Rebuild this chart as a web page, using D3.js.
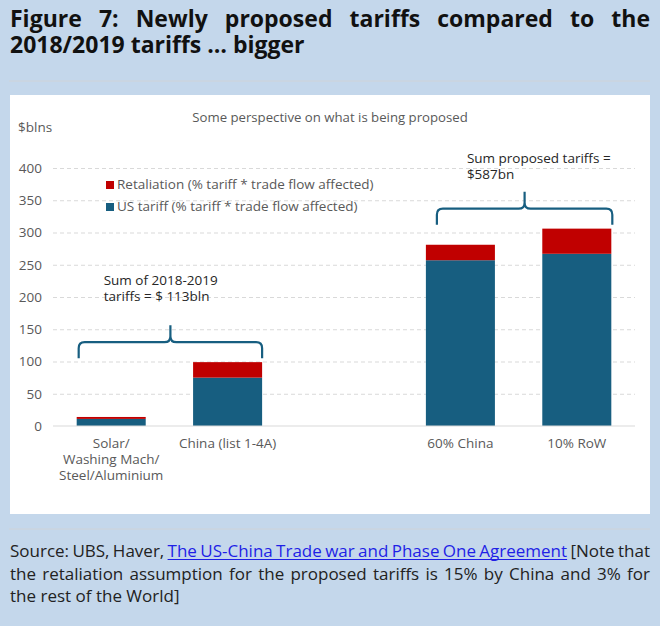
<!DOCTYPE html>
<html>
<head>
<meta charset="utf-8">
<script src="https://cdn.jsdelivr.net/npm/d3@7"></script>
<style>
  body { margin: 0; background: #c4d7eb; }
  svg { display: block; }
</style>
</head>
<body>
<svg id="fig" width="660" height="626"></svg>
<script>
// chart values
const categories = ["Solar/Washing Mach/Steel/Aluminium", "China (list 1-4A)", "", "60% China", "10% RoW"];
const xLabels = [["Solar/", "Washing Mach/", "Steel/Aluminium"], ["China (list 1-4A)"], [], ["60% China"], ["10% RoW"]];
const usTariff = [11, 75, null, 257, 267];
const retaliation = [3, 24, null, 24, 39];
const yTicks = [0, 50, 100, 150, 200, 250, 300, 350, 400];
const seriesNames = ["Retaliation (% tariff * trade flow affected)", "US tariff (% tariff * trade flow affected)"];
const braceGroups = [[0, 1], [3, 4]];
const braceLabels = [["Sum of 2018-2019", "tariffs = $ 113bln"], ["Sum proposed tariffs =", "$587bn"]];

const titleLines = ["Figure 7: Newly proposed tariffs compared to the", "2018/2019 tariffs \u2026 bigger"];
const sourceLines = [
  [["Source: UBS, Haver,", false], ["The US-China Trade war and Phase One Agreement", true], ["[Note that", false]],
  [["the retaliation assumption for the proposed tariffs is 15% by China and 3% for", false]],
  [["the rest of the World]", false]]
];

const svg = d3.select("#fig");
const FONT = "'Open Sans', 'Noto Sans', sans-serif";

// lays words out on one line; justified lines stretch the gaps to fill x0..x1
function wordLine(g, segments, x0, x1, y, justify, attrs) {
  const words = [];
  segments.forEach(([txt, link]) => txt.split(" ").forEach(w => words.push({ w, link })));
  const nodes = words.map(d => {
    const t = g.append("text").attr("y", y).text(d.w);
    Object.entries(attrs).forEach(([k, v]) => t.attr(k, v));
    if (d.link) t.attr("fill", "#1f1fe6");
    return t;
  });
  const widths = nodes.map(n => n.node().getComputedTextLength());
  const total = d3.sum(widths);
  const space = justify ? (x1 - x0 - total) / (words.length - 1) : attrs["font-size"] * 0.26;
  let x = x0;
  let linkStart = null, linkEnd = null;
  nodes.forEach((n, i) => {
    n.attr("x", x);
    if (words[i].link) {
      if (linkStart === null) linkStart = x;
      linkEnd = x + widths[i];
    }
    x += widths[i] + space;
  });
  if (linkStart !== null) {
    g.append("line")
      .attr("x1", linkStart).attr("x2", linkEnd)
      .attr("y1", y + 2.5).attr("y2", y + 2.5)
      .attr("stroke", "#1f1fe6").attr("stroke-width", 1);
  }
}

// title
const title = svg.append("g");
titleLines.forEach((line, i) => {
  wordLine(title, [[line, false]], 10, 650, 27 + i * 26, i === 0,
    { "font-family": FONT, "font-size": 23, "font-weight": "bold", fill: "#111111" });
});

// separators and panel
svg.append("line").attr("x1", 9).attr("x2", 650).attr("y1", 81).attr("y2", 81)
  .attr("stroke", "#cfd3d8").attr("stroke-width", 1);
svg.append("line").attr("x1", 9).attr("x2", 650).attr("y1", 529).attr("y2", 529)
  .attr("stroke", "#cfd3d8").attr("stroke-width", 1);
svg.append("rect").attr("x", 10).attr("y", 95).attr("width", 640).attr("height", 419)
  .attr("fill", "#ffffff");

// source
const source = svg.append("g");
sourceLines.forEach((segs, i) => {
  wordLine(source, segs, 10, 650, 557 + i * 22.5, i < 2,
    { "font-family": FONT, "font-size": 17, fill: "#222222" });
});

// chart
const x = d3.scaleBand().domain(categories).range([53, 635]).paddingInner(0.407).paddingOuter(0.2035);
const y = d3.scaleLinear().domain([0, 400]).range([426, 168]);
const blue = "#175e80", red = "#c00000", grey = "#595959";

const chart = svg.append("g").attr("font-family", FONT);

chart.append("text").attr("x", 330).attr("y", 122).attr("text-anchor", "middle")
  .attr("font-size", 13.2).attr("fill", grey).text("Some perspective on what is being proposed");
chart.append("text").attr("x", 18).attr("y", 132)
  .attr("font-size", 13.5).attr("fill", grey).text("$blns");

// gridlines
const grid = chart.append("g").attr("transform", "translate(53,0)")
  .call(d3.axisLeft(y).tickValues(yTicks.filter(v => v > 0)).tickSize(-582).tickFormat(""));
grid.select(".domain").remove();
grid.selectAll("line").attr("stroke", "#d9d9d9").attr("stroke-dasharray", "4,3");

// y tick labels
const yAxis = chart.append("g").attr("transform", "translate(42,0)")
  .call(d3.axisLeft(y).tickValues(yTicks).tickSize(0).tickPadding(0));
yAxis.select(".domain").remove();
yAxis.selectAll("text").attr("font-family", FONT).attr("font-size", 13.5).attr("fill", grey);

// bars
const rows = categories.map((c, i) => ({ c, us: usTariff[i], ret: retaliation[i] })).filter(d => d.us !== null);
chart.selectAll(".us").data(rows).join("rect")
  .attr("x", d => x(d.c)).attr("width", x.bandwidth())
  .attr("y", d => y(d.us)).attr("height", d => y(0) - y(d.us))
  .attr("fill", blue);
chart.selectAll(".ret").data(rows).join("rect")
  .attr("x", d => x(d.c)).attr("width", x.bandwidth())
  .attr("y", d => y(d.us + d.ret)).attr("height", d => y(d.us) - y(d.us + d.ret))
  .attr("fill", red);

// x axis
chart.append("line").attr("x1", 53).attr("x2", 635).attr("y1", y(0)).attr("y2", y(0))
  .attr("stroke", "#d9d9d9").attr("stroke-width", 1);
const xl = chart.append("g");
categories.forEach((c, i) => {
  const t = xl.append("text").attr("text-anchor", "middle").attr("font-size", 13.5).attr("fill", grey);
  xLabels[i].forEach((line, j) => {
    t.append("tspan").attr("x", x(c) + x.bandwidth() / 2).attr("y", 448 + j * 16).text(line);
  });
});

// legend
const legend = chart.append("g");
[red, blue].forEach((col, i) => {
  legend.append("rect").attr("x", 106).attr("y", 181 + i * 22).attr("width", 8).attr("height", 8).attr("fill", col);
  legend.append("text").attr("x", 117).attr("y", 189 + i * 22)
    .attr("font-size", 13.5).attr("fill", grey).text(seriesNames[i]);
});

// braces over each group of bars
const braceOpts = [
  { dl: 2, dr: 0, lx: 25, ly: [-40, -24] },
  { dl: 11, dr: 1, lx: 30, ly: [-29, -13] }
];
braceGroups.forEach((grp, i) => {
  const o = braceOpts[i];
  const top = y(d3.max(grp, k => usTariff[k] + retaliation[k]));
  const x0 = x(categories[grp[0]]) + o.dl;
  const x1 = x(categories[grp[1]]) + x.bandwidth() + o.dr;
  const xm = (x0 + x1) / 2;
  const yb = top - 4, yh = top - 20, yt = top - 37, r = 6;
  const p = d3.path();
  p.moveTo(x0, yb); p.lineTo(x0, yh + r); p.quadraticCurveTo(x0, yh, x0 + r, yh);
  p.lineTo(xm - r, yh); p.quadraticCurveTo(xm, yh, xm, yh - r); p.lineTo(xm, yt);
  p.moveTo(xm, yh - r); p.quadraticCurveTo(xm, yh, xm + r, yh);
  p.lineTo(x1 - r, yh); p.quadraticCurveTo(x1, yh, x1, yh + r); p.lineTo(x1, yb);
  chart.append("path").attr("d", p.toString()).attr("fill", "none")
    .attr("stroke", blue).attr("stroke-width", 2.2);
  braceLabels[i].forEach((line, j) => {
    chart.append("text").attr("x", x0 + o.lx).attr("y", yt + o.ly[j])
      .attr("font-size", 13.5).attr("fill", "#262626").text(line);
  });
});
</script>
</body>
</html>
